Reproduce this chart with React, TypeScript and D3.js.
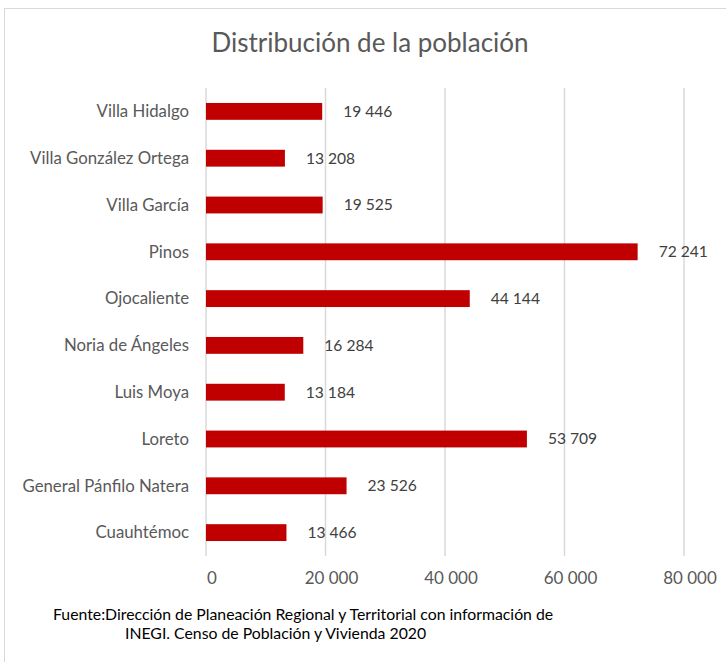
import React from "react";
import * as d3 from "d3";

const categories = [
  "Villa Hidalgo",
  "Villa González Ortega",
  "Villa García",
  "Pinos",
  "Ojocaliente",
  "Noria de Ángeles",
  "Luis Moya",
  "Loreto",
  "General Pánfilo Natera",
  "Cuauhtémoc",
];
const values = [19446, 13208, 19525, 72241, 44144, 16284, 13184, 53709, 23526, 13466];
const ticks = [0, 20000, 40000, 60000, 80000];
const title = "Distribución de la población";
const sourceLines = [
  "Fuente:Dirección de Planeación Regional y Territorial con información de",
  "INEGI. Censo de Población y Vivienda 2020",
];

const W = 726;
const H = 662;
const FONT = "Lato, 'Open Sans', sans-serif";

export default function App() {
  const x = d3.scaleLinear().domain([0, 80000]).range([206, 684]);
  const y = d3.scaleBand<string>().domain(categories).range([88, 556]).paddingInner(0.64).paddingOuter(0.32);
  const fmt = d3.formatLocale({ thousands: " ", grouping: [3], decimal: ".", currency: ["", ""] }).format(",d");
  const bw = y.bandwidth();

  return (
    <svg width={W} height={H} style={{ position: "absolute", left: 0, top: 0, background: "#fff" }}>
      <rect x={4.5} y={8.5} width={W + 20} height={H + 20} fill="#fff" stroke="#d9d9d9" strokeWidth={1} />
      <text x={370} y={52} textAnchor="middle" fontFamily={FONT} fontSize={26} fill="#595959">
        {title}
      </text>
      {ticks.map((t) => (
        <line key={"g" + t} x1={x(t)} x2={x(t)} y1={88} y2={556} stroke="#d9d9d9" strokeWidth={1.5} />
      ))}
      {categories.map((c, i) => {
        const yc = (y(c) as number) + bw / 2;
        return (
          <g key={c}>
            <rect x={x(0)} y={y(c)} width={x(values[i]) - x(0)} height={bw} fill="#C00000" />
            <text x={189} y={yc} dy="0.35em" textAnchor="end" fontFamily={FONT} fontSize={16.8} fill="#595959">
              {c}
            </text>
            <text x={x(values[i]) + 21} y={yc} dy="0.35em" fontFamily={FONT} fontSize={15.6} fill="#404040">
              {fmt(values[i])}
            </text>
          </g>
        );
      })}
      {ticks.map((t) => (
        <text key={"t" + t} x={x(t) + 6} y={578} dy="0.35em" textAnchor="middle" fontFamily={FONT} fontSize={17} fill="#595959">
          {fmt(t)}
        </text>
      ))}
      <text x={53} y={620} fontFamily={FONT} fontSize={15.8} fill="#000">
        {sourceLines[0]}
      </text>
      <text x={125} y={639} fontFamily={FONT} fontSize={15.8} fill="#000">
        {sourceLines[1]}
      </text>
    </svg>
  );
}
